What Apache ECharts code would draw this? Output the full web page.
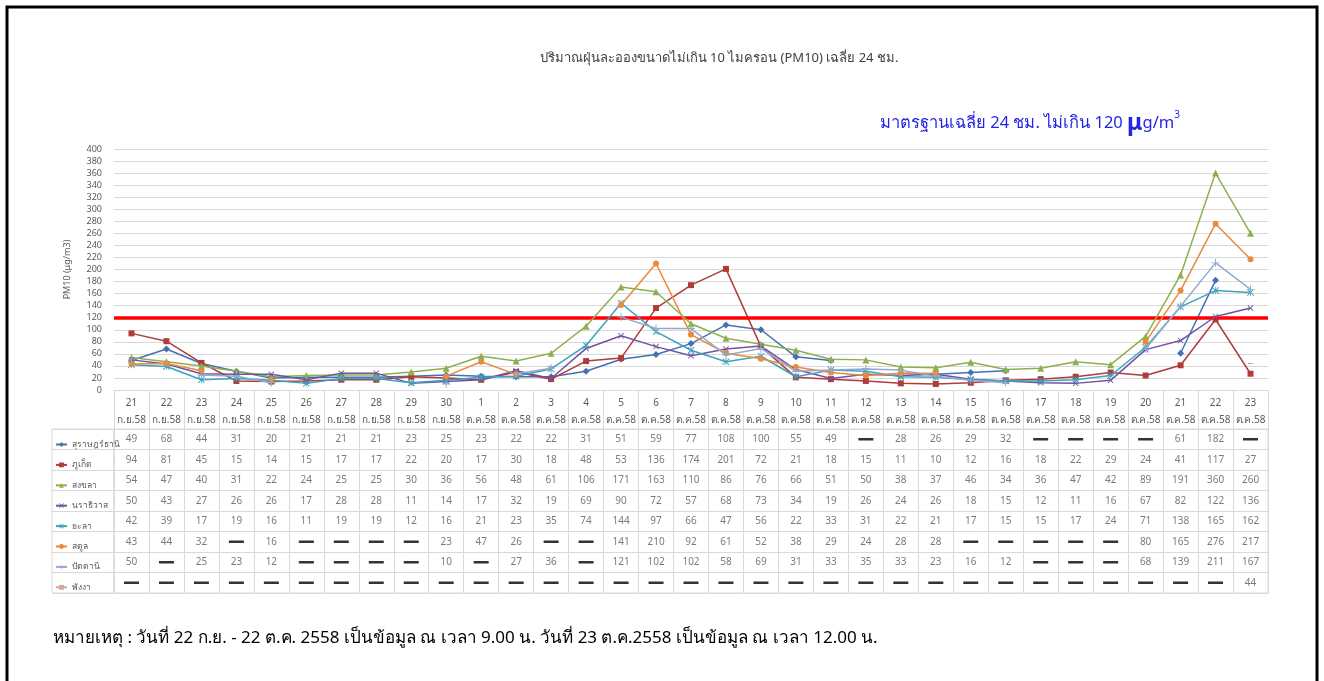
<!DOCTYPE html>
<html>
<head>
<meta charset="utf-8">
<script src="https://cdn.jsdelivr.net/npm/echarts@6/dist/echarts.min.js"></script>
<style>
  html, body { margin: 0; padding: 0; background: #fff; }
  #main { width: 1324px; height: 681px; }
</style>
</head>
<body>
<div id="main"></div>
<script>
// วันที่ (แกน x / หัวตาราง)
const days = ['21', '22', '23', '24', '25', '26', '27', '28', '29', '30',
  '1', '2', '3', '4', '5', '6', '7', '8', '9', '10', '11', '12', '13', '14', '15', '16',
  '17', '18', '19', '20', '21', '22', '23'];
const months = ['ก.ย.58', 'ก.ย.58', 'ก.ย.58', 'ก.ย.58', 'ก.ย.58', 'ก.ย.58', 'ก.ย.58', 'ก.ย.58', 'ก.ย.58', 'ก.ย.58',
  'ต.ค.58', 'ต.ค.58', 'ต.ค.58', 'ต.ค.58', 'ต.ค.58', 'ต.ค.58', 'ต.ค.58', 'ต.ค.58', 'ต.ค.58', 'ต.ค.58', 'ต.ค.58',
  'ต.ค.58', 'ต.ค.58', 'ต.ค.58', 'ต.ค.58', 'ต.ค.58', 'ต.ค.58', 'ต.ค.58', 'ต.ค.58', 'ต.ค.58', 'ต.ค.58', 'ต.ค.58', 'ต.ค.58'];

// ค่า PM10 แต่ละสถานี (null = ไม่มีข้อมูล)
const surat = [49, 68, 44, 31, 20, 21, 21, 21, 23, 25, 23, 22, 22, 31, 51, 59, 77, 108, 100, 55, 49, null, 28, 26, 29, 32, null, null, null, null, 61, 182, null];
const phuket = [94, 81, 45, 15, 14, 15, 17, 17, 22, 20, 17, 30, 18, 48, 53, 136, 174, 201, 72, 21, 18, 15, 11, 10, 12, 16, 18, 22, 29, 24, 41, 117, 27];
const songkhla = [54, 47, 40, 31, 22, 24, 25, 25, 30, 36, 56, 48, 61, 106, 171, 163, 110, 86, 76, 66, 51, 50, 38, 37, 46, 34, 36, 47, 42, 89, 191, 360, 260];
const narathiwat = [50, 43, 27, 26, 26, 17, 28, 28, 11, 14, 17, 32, 19, 69, 90, 72, 57, 68, 73, 34, 19, 26, 24, 26, 18, 15, 12, 11, 16, 67, 82, 122, 136];
const yala = [42, 39, 17, 19, 16, 11, 19, 19, 12, 16, 21, 23, 35, 74, 144, 97, 66, 47, 56, 22, 33, 31, 22, 21, 17, 15, 15, 17, 24, 71, 138, 165, 162];
const satun = [43, 44, 32, null, 16, null, null, null, null, 23, 47, 26, null, null, 141, 210, 92, 61, 52, 38, 29, 24, 28, 28, null, null, null, null, null, 80, 165, 276, 217];
const pattani = [50, null, 25, 23, 12, null, null, null, null, 10, null, 27, 36, null, 121, 102, 102, 58, 69, 31, 33, 35, 33, 23, 16, 12, null, null, null, 68, 139, 211, 167];
const phangnga = [null, null, null, null, null, null, null, null, null, null, null, null, null, null, null, null, null, null, null, null, null, null, null, null, null, null, null, null, null, null, null, null, 44];

const STANDARD = 120;

const stations = [
  { name: 'สุราษฎร์ธานี', data: surat, color: '#4472B0', symbol: 'diamond', size: 7 },
  { name: 'ภูเก็ต', data: phuket, color: '#AE3C3A', symbol: 'rect', size: 6 },
  { name: 'สงขลา', data: songkhla, color: '#8DB04F', symbol: 'triangle', size: 7 },
  { name: 'นราธิวาส', data: narathiwat, color: '#7352A0', symbol: 'path://M0,1L1,0L5,4L9,0L10,1L6,5L10,9L9,10L5,6L1,10L0,9L4,5Z', size: 6 },
  { name: 'ยะลา', data: yala, color: '#3CA2BE', symbol: 'path://M0,1L1,0L4.5,3.5V0H5.5V3.5L9,0L10,1L6,5L10,9L9,10L5.5,6.5V10H4.5V6.5L1,10L0,9L4,5Z', size: 7 },
  { name: 'สตูล', data: satun, color: '#E98A3C', symbol: 'circle', size: 6 },
  { name: 'ปัตตานี', data: pattani, color: '#94AACF', symbol: 'path://M4.4,0H5.6V4.4H10V5.6H5.6V10H4.4V5.6H0V4.4H4.4Z', size: 8 },
  { name: 'พังงา', data: phangnga, color: '#D9A3A2', symbol: 'path://M0,0H10V2H0Z', size: [5, 1] }
];

const font = '"Noto Sans", Tahoma, sans-serif';
const grey = '#595959';
const lineGrey = '#d9d9d9';
const blue = '#2424E8';

const lineSeries = stations.map(function (s, i) {
  const ser = {
    name: s.name,
    type: 'line',
    xAxisIndex: 0,
    yAxisIndex: 0,
    data: s.data,
    connectNulls: false,
    showAllSymbol: true,
    symbol: s.symbol,
    symbolSize: s.size,
    lineStyle: { color: s.color, width: 1.5 },
    itemStyle: { color: s.color },
    z: 3 + i
  };
  if (i === 0) {
    ser.markLine = {
      silent: true,
      symbol: ['none', 'none'],
      label: { show: false },
      lineStyle: { color: '#FF0000', width: 3.5, type: 'solid' },
      data: [{ yAxis: STANDARD }]
    };
  }
  return ser;
});

// ตารางข้อมูลใต้กราฟ
const tableData = [];
stations.forEach(function (s, r) {
  s.data.forEach(function (v, c) {
    if (v === null) {
      tableData.push({
        value: [c, r, '—'],
        symbol: 'rect',
        symbolSize: [15, 2.5],
        itemStyle: { color: '#000' },
        label: { show: false }
      });
    } else {
      tableData.push({ value: [c, r, v], symbolSize: 0 });
    }
  });
});

const chart = echarts.init(document.getElementById('main'));
chart.setOption({
  animation: false,
  textStyle: { fontFamily: font },
  title: [
    {
      text: 'ปริมาณฝุ่นละอองขนาดไม่เกิน 10 ไมครอน (PM10) เฉลี่ย 24 ชม.',
      left: 714, top: 47, textAlign: 'center',
      textStyle: { fontSize: 13, fontWeight: 'normal', color: '#404040', fontFamily: font }
    },
    {
      text: '{a|มาตรฐานเฉลี่ย 24 ชม. ไม่เกิน 120 }{mu|μ}{a|g/m}{sup|3}',
      left: 875, top: 105,
      textStyle: {
        fontWeight: 'normal',
        rich: {
          a: { fontSize: 16.5, color: blue, fontWeight: 'normal', fontFamily: font, lineHeight: 26 },
          mu: { fontSize: 23, color: blue, fontWeight: 'bold', fontFamily: font, lineHeight: 26 },
          sup: { fontSize: 10, color: blue, fontWeight: 'normal', fontFamily: font, verticalAlign: 'top', lineHeight: 26, padding: [0, 0, 14, 0] }
        }
      }
    },
    {
      text: 'หมายเหตุ : วันที่ 22 ก.ย. - 22 ต.ค. 2558 เป็นข้อมูล ณ เวลา 9.00 น. วันที่ 23 ต.ค.2558 เป็นข้อมูล ณ เวลา 12.00 น.',
      left: 48, top: 625,
      textStyle: { fontSize: 17, fontWeight: 'normal', color: '#000', fontFamily: font }
    }
  ],
  legend: {
    data: stations.map(function (s) { return s.name; }),
    orient: 'vertical',
    left: 50, top: 435,
    itemWidth: 11, itemHeight: 6, itemGap: 11.4,
    selectedMode: false,
    textStyle: { fontSize: 8.5, color: grey, lineHeight: 8, fontFamily: font }
  },
  grid: [
    { left: 114, right: 56, top: 149, height: 241 },
    { left: 114, right: 56, top: 429, height: 164, show: true, borderColor: lineGrey, borderWidth: 1 },
    { left: 52, width: 62, top: 429, height: 164, show: true, borderColor: lineGrey, borderWidth: 1 }
  ],
  xAxis: [
    {
      gridIndex: 0, type: 'category', data: days, boundaryGap: true,
      axisLine: { lineStyle: { color: lineGrey } },
      axisTick: { show: true, length: 39, interval: 0, lineStyle: { color: lineGrey } },
      axisLabel: {
        interval: 0, margin: 5, color: grey, fontSize: 10, lineHeight: 17,
        formatter: function (v, i) { return v + '\n' + months[i]; }
      }
    },
    {
      gridIndex: 1, type: 'category', data: days, boundaryGap: true,
      axisLine: { show: false }, axisTick: { show: false }, axisLabel: { show: false },
      splitLine: { show: true, interval: 0, lineStyle: { color: lineGrey } }
    },
    {
      gridIndex: 2, type: 'category', data: [''], show: false
    }
  ],
  yAxis: [
    {
      gridIndex: 0, type: 'value', min: 0, max: 400, interval: 20,
      name: 'PM10 (μg/m3)', nameLocation: 'middle', nameGap: 42,
      nameTextStyle: { fontSize: 9, color: grey, fontFamily: font },
      axisLine: { show: false }, axisTick: { show: false },
      axisLabel: { color: grey, fontSize: 9, margin: 12 },
      splitLine: { lineStyle: { color: lineGrey } }
    },
    {
      gridIndex: 1, type: 'category', inverse: true,
      data: stations.map(function (s) { return s.name; }),
      axisLine: { show: false }, axisTick: { show: false }, axisLabel: { show: false },
      splitLine: { show: true, interval: 0, lineStyle: { color: lineGrey } }
    },
    {
      gridIndex: 2, type: 'category', inverse: true,
      data: stations.map(function (s) { return s.name; }),
      axisLine: { show: false }, axisTick: { show: false }, axisLabel: { show: false },
      splitLine: { show: true, interval: 0, lineStyle: { color: lineGrey } }
    }
  ],
  series: lineSeries.concat([
    {
      name: 'table',
      type: 'scatter',
      xAxisIndex: 1, yAxisIndex: 1,
      silent: true,
      data: tableData,
      label: {
        show: true, position: 'inside', color: grey, fontSize: 10,
        formatter: function (p) { return p.value[2]; }
      }
    }
  ]),
  graphic: [
    {
      type: 'rect', silent: true,
      shape: { x: 7, y: 7, width: 1310, height: 700 },
      style: { fill: 'none', stroke: '#000', lineWidth: 3 }
    }
  ]
});
</script>
</body>
</html>
